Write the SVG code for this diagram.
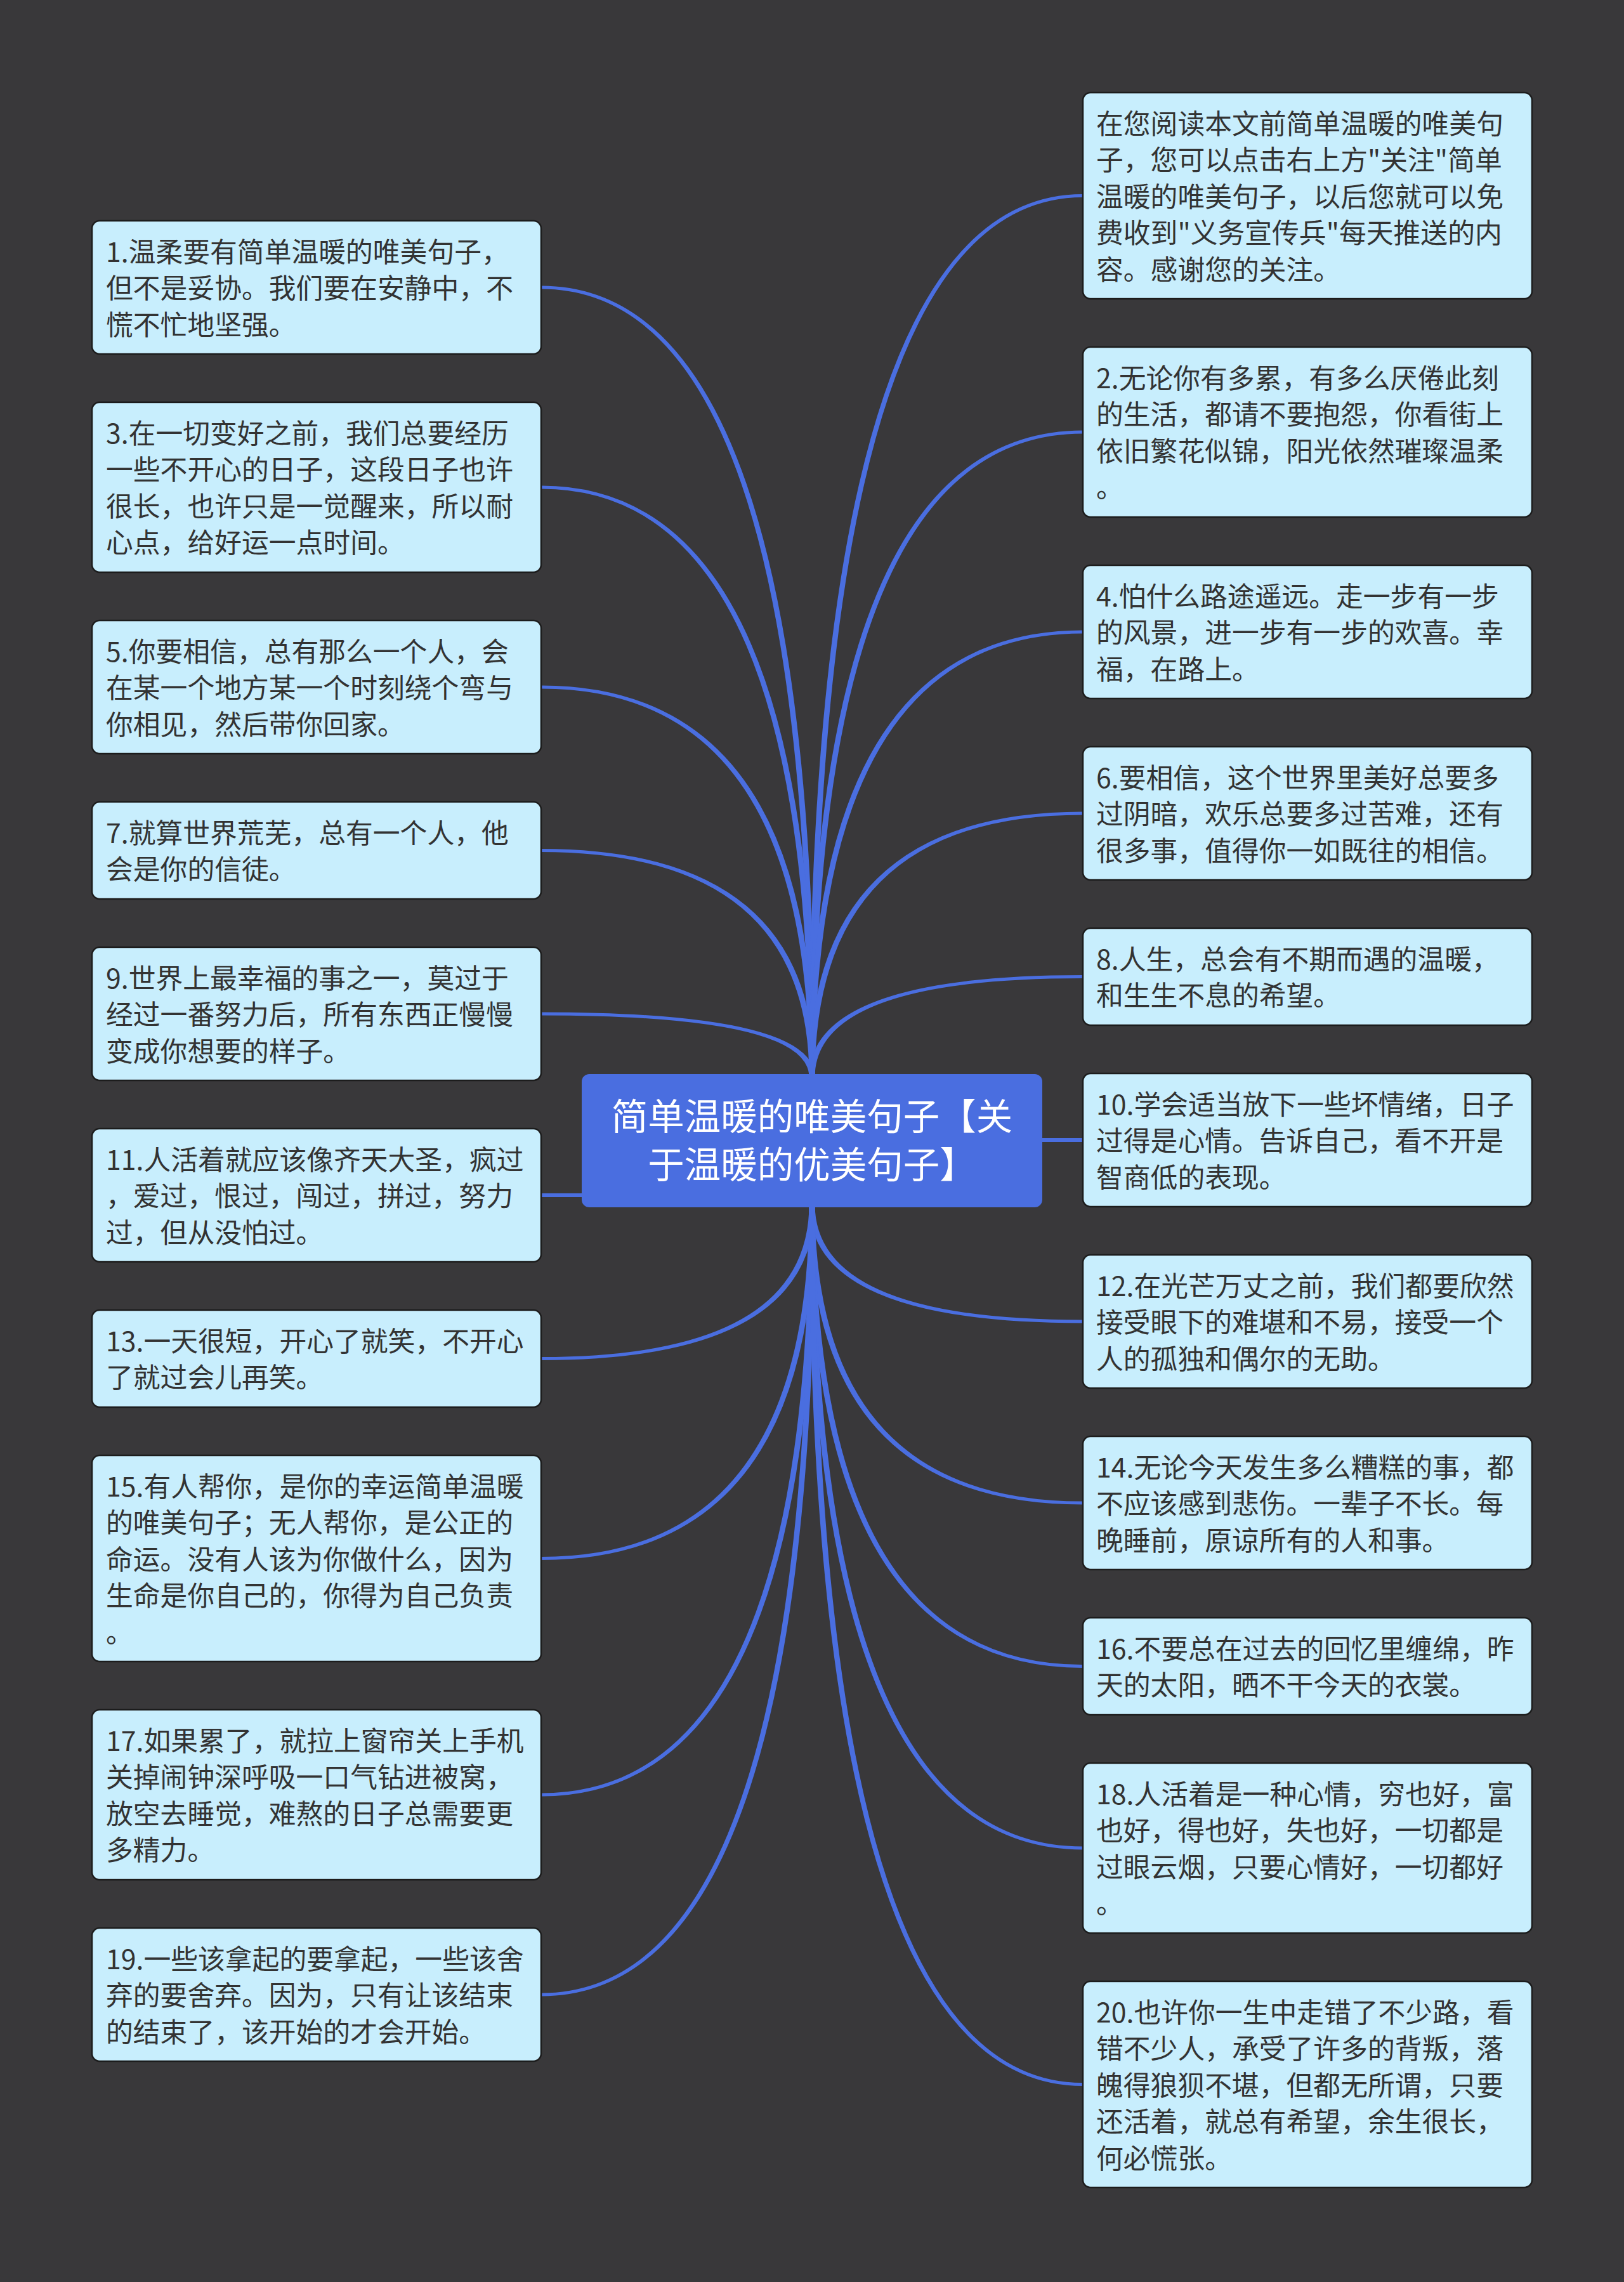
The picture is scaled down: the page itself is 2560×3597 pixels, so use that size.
<svg xmlns="http://www.w3.org/2000/svg" width="2560" height="3597" viewBox="0 0 2560 3597">
<style>
.bg{fill:#39383a}
.conn path,.conn rect{fill:#4a6ee0}
.node rect{fill:#c8eefd;stroke:#1c1c1c;stroke-width:2.5}
.node text{font-family:"Noto Sans CJK SC","Noto Sans",sans-serif;font-size:42.8px;fill:#333333}
.root rect{fill:#4a6ee0}
.root text{font-family:"Noto Sans CJK SC","Noto Sans",sans-serif;font-size:57.5px;fill:#ffffff;text-anchor:middle}
</style>
<rect class="bg" x="0" y="0" width="2560" height="3597"/>
<g id="connectors" class="conn">
<path d="M853,450.5 Q1284.5,450.5 1284.5,1698 L1275.5,1698 Q1275.5,455.5 853,455.5Z"/>
<path d="M853,765.5 Q1284.5,765.5 1284.5,1698 L1275.5,1698 Q1275.5,770.5 853,770.5Z"/>
<path d="M853,1080.5 Q1284.5,1080.5 1284.5,1698 L1275.5,1698 Q1275.5,1085.5 853,1085.5Z"/>
<path d="M853,1338 Q1284.5,1338 1284.5,1698 L1275.5,1698 Q1275.5,1343 853,1343Z"/>
<path d="M853,1595.5 Q1284.5,1595.5 1284.5,1698 L1275.5,1698 Q1275.5,1600.5 853,1600.5Z"/>
<rect x="851" y="1881" width="70" height="6"/>
<path d="M853,2139 Q1275.5,2139 1275.5,1898 L1284.5,1898 Q1284.5,2144 853,2144Z"/>
<path d="M853,2454 Q1275.5,2454 1275.5,1898 L1284.5,1898 Q1284.5,2459 853,2459Z"/>
<path d="M853,2826.5 Q1275.5,2826.5 1275.5,1898 L1284.5,1898 Q1284.5,2831.5 853,2831.5Z"/>
<path d="M853,3141.5 Q1275.5,3141.5 1275.5,1898 L1284.5,1898 Q1284.5,3146.5 853,3146.5Z"/>
<path d="M1707,306 Q1275.5,306 1275.5,1698 L1284.5,1698 Q1284.5,311 1707,311Z"/>
<path d="M1707,678.5 Q1275.5,678.5 1275.5,1698 L1284.5,1698 Q1284.5,683.5 1707,683.5Z"/>
<path d="M1707,993.5 Q1275.5,993.5 1275.5,1698 L1284.5,1698 Q1284.5,998.5 1707,998.5Z"/>
<path d="M1707,1279.5 Q1275.5,1279.5 1275.5,1698 L1284.5,1698 Q1284.5,1284.5 1707,1284.5Z"/>
<path d="M1707,1537 Q1275.5,1537 1275.5,1698 L1284.5,1698 Q1284.5,1542 1707,1542Z"/>
<rect x="1639" y="1794" width="70" height="6"/>
<path d="M1707,2080.5 Q1284.5,2080.5 1284.5,1898 L1275.5,1898 Q1275.5,2085.5 1707,2085.5Z"/>
<path d="M1707,2366.5 Q1284.5,2366.5 1284.5,1898 L1275.5,1898 Q1275.5,2371.5 1707,2371.5Z"/>
<path d="M1707,2624 Q1284.5,2624 1284.5,1898 L1275.5,1898 Q1275.5,2629 1707,2629Z"/>
<path d="M1707,2910.5 Q1284.5,2910.5 1284.5,1898 L1275.5,1898 Q1275.5,2915.5 1707,2915.5Z"/>
<path d="M1707,3283 Q1284.5,3283 1284.5,1898 L1275.5,1898 Q1275.5,3288 1707,3288Z"/>
</g>
<g id="root" class="root">
<rect x="917" y="1693" width="726" height="210" rx="12"/>
<text><tspan x="1280" y="1781">简单温暖的唯美句子【关</tspan><tspan x="1280" y="1857">于温暖的优美句子】</tspan></text>
</g>
<g id="n1" class="node"><rect x="145" y="348" width="708" height="210" rx="12"/>
<text><tspan x="167" y="413">1.温柔要有简单温暖的唯美句子，</tspan><tspan x="167" y="470.4">但不是妥协。我们要在安静中，不</tspan><tspan x="167" y="527.8">慌不忙地坚强。</tspan></text></g>
<g id="n3" class="node"><rect x="145" y="634" width="708" height="268" rx="12"/>
<text><tspan x="167" y="699">3.在一切变好之前，我们总要经历</tspan><tspan x="167" y="756.4">一些不开心的日子，这段日子也许</tspan><tspan x="167" y="813.8">很长，也许只是一觉醒来，所以耐</tspan><tspan x="167" y="871.2">心点，给好运一点时间。</tspan></text></g>
<g id="n5" class="node"><rect x="145" y="978" width="708" height="210" rx="12"/>
<text><tspan x="167" y="1043">5.你要相信，总有那么一个人，会</tspan><tspan x="167" y="1100.4">在某一个地方某一个时刻绕个弯与</tspan><tspan x="167" y="1157.8">你相见，然后带你回家。</tspan></text></g>
<g id="n7" class="node"><rect x="145" y="1264" width="708" height="153" rx="12"/>
<text><tspan x="167" y="1329">7.就算世界荒芜，总有一个人，他</tspan><tspan x="167" y="1386.4">会是你的信徒。</tspan></text></g>
<g id="n9" class="node"><rect x="145" y="1493" width="708" height="210" rx="12"/>
<text><tspan x="167" y="1558">9.世界上最幸福的事之一，莫过于</tspan><tspan x="167" y="1615.4">经过一番努力后，所有东西正慢慢</tspan><tspan x="167" y="1672.8">变成你想要的样子。</tspan></text></g>
<g id="n11" class="node"><rect x="145" y="1779" width="708" height="210" rx="12"/>
<text><tspan x="167" y="1844">11.人活着就应该像齐天大圣，疯过</tspan><tspan x="167" y="1901.4">，爱过，恨过，闯过，拼过，努力</tspan><tspan x="167" y="1958.8">过，但从没怕过。</tspan></text></g>
<g id="n13" class="node"><rect x="145" y="2065" width="708" height="153" rx="12"/>
<text><tspan x="167" y="2130">13.一天很短，开心了就笑，不开心</tspan><tspan x="167" y="2187.4">了就过会儿再笑。</tspan></text></g>
<g id="n15" class="node"><rect x="145" y="2294" width="708" height="325" rx="12"/>
<text><tspan x="167" y="2359">15.有人帮你，是你的幸运简单温暖</tspan><tspan x="167" y="2416.4">的唯美句子；无人帮你，是公正的</tspan><tspan x="167" y="2473.8">命运。没有人该为你做什么，因为</tspan><tspan x="167" y="2531.2">生命是你自己的，你得为自己负责</tspan><tspan x="167" y="2588.6">。</tspan></text></g>
<g id="n17" class="node"><rect x="145" y="2695" width="708" height="268" rx="12"/>
<text><tspan x="167" y="2760">17.如果累了，就拉上窗帘关上手机</tspan><tspan x="167" y="2817.4">关掉闹钟深呼吸一口气钻进被窝，</tspan><tspan x="167" y="2874.8">放空去睡觉，难熬的日子总需要更</tspan><tspan x="167" y="2932.2">多精力。</tspan></text></g>
<g id="n19" class="node"><rect x="145" y="3039" width="708" height="210" rx="12"/>
<text><tspan x="167" y="3104">19.一些该拿起的要拿起，一些该舍</tspan><tspan x="167" y="3161.4">弃的要舍弃。因为，只有让该结束</tspan><tspan x="167" y="3218.8">的结束了，该开始的才会开始。</tspan></text></g>
<g id="n0" class="node"><rect x="1707" y="146" width="708" height="325" rx="12"/>
<text><tspan x="1728" y="211">在您阅读本文前简单温暖的唯美句</tspan><tspan x="1728" y="268.4">子，您可以点击右上方"关注"简单</tspan><tspan x="1728" y="325.8">温暖的唯美句子，以后您就可以免</tspan><tspan x="1728" y="383.2">费收到"义务宣传兵"每天推送的内</tspan><tspan x="1728" y="440.6">容。感谢您的关注。</tspan></text></g>
<g id="n2" class="node"><rect x="1707" y="547" width="708" height="268" rx="12"/>
<text><tspan x="1728" y="612">2.无论你有多累，有多么厌倦此刻</tspan><tspan x="1728" y="669.4">的生活，都请不要抱怨，你看街上</tspan><tspan x="1728" y="726.8">依旧繁花似锦，阳光依然璀璨温柔</tspan><tspan x="1728" y="784.2">。</tspan></text></g>
<g id="n4" class="node"><rect x="1707" y="891" width="708" height="210" rx="12"/>
<text><tspan x="1728" y="956">4.怕什么路途遥远。走一步有一步</tspan><tspan x="1728" y="1013.4">的风景，进一步有一步的欢喜。幸</tspan><tspan x="1728" y="1070.8">福，在路上。</tspan></text></g>
<g id="n6" class="node"><rect x="1707" y="1177" width="708" height="210" rx="12"/>
<text><tspan x="1728" y="1242">6.要相信，这个世界里美好总要多</tspan><tspan x="1728" y="1299.4">过阴暗，欢乐总要多过苦难，还有</tspan><tspan x="1728" y="1356.8">很多事，值得你一如既往的相信。</tspan></text></g>
<g id="n8" class="node"><rect x="1707" y="1463" width="708" height="153" rx="12"/>
<text><tspan x="1728" y="1528">8.人生，总会有不期而遇的温暖，</tspan><tspan x="1728" y="1585.4">和生生不息的希望。</tspan></text></g>
<g id="n10" class="node"><rect x="1707" y="1692" width="708" height="210" rx="12"/>
<text><tspan x="1728" y="1757">10.学会适当放下一些坏情绪，日子</tspan><tspan x="1728" y="1814.4">过得是心情。告诉自己，看不开是</tspan><tspan x="1728" y="1871.8">智商低的表现。</tspan></text></g>
<g id="n12" class="node"><rect x="1707" y="1978" width="708" height="210" rx="12"/>
<text><tspan x="1728" y="2043">12.在光芒万丈之前，我们都要欣然</tspan><tspan x="1728" y="2100.4">接受眼下的难堪和不易，接受一个</tspan><tspan x="1728" y="2157.8">人的孤独和偶尔的无助。</tspan></text></g>
<g id="n14" class="node"><rect x="1707" y="2264" width="708" height="210" rx="12"/>
<text><tspan x="1728" y="2329">14.无论今天发生多么糟糕的事，都</tspan><tspan x="1728" y="2386.4">不应该感到悲伤。一辈子不长。每</tspan><tspan x="1728" y="2443.8">晚睡前，原谅所有的人和事。</tspan></text></g>
<g id="n16" class="node"><rect x="1707" y="2550" width="708" height="153" rx="12"/>
<text><tspan x="1728" y="2615">16.不要总在过去的回忆里缠绵，昨</tspan><tspan x="1728" y="2672.4">天的太阳，晒不干今天的衣裳。</tspan></text></g>
<g id="n18" class="node"><rect x="1707" y="2779" width="708" height="268" rx="12"/>
<text><tspan x="1728" y="2844">18.人活着是一种心情，穷也好，富</tspan><tspan x="1728" y="2901.4">也好，得也好，失也好，一切都是</tspan><tspan x="1728" y="2958.8">过眼云烟，只要心情好，一切都好</tspan><tspan x="1728" y="3016.2">。</tspan></text></g>
<g id="n20" class="node"><rect x="1707" y="3123" width="708" height="325" rx="12"/>
<text><tspan x="1728" y="3188">20.也许你一生中走错了不少路，看</tspan><tspan x="1728" y="3245.4">错不少人，承受了许多的背叛，落</tspan><tspan x="1728" y="3302.8">魄得狼狈不堪，但都无所谓，只要</tspan><tspan x="1728" y="3360.2">还活着，就总有希望，余生很长，</tspan><tspan x="1728" y="3417.6">何必慌张。</tspan></text></g>
</svg>
